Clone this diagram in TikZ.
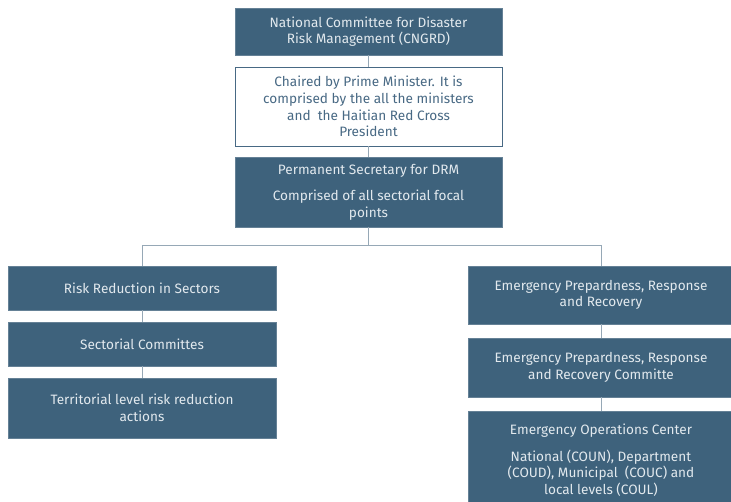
\documentclass[tikz,border=0pt]{standalone}
\usepackage{fontspec}
\setmainfont{Fira Sans}
\usetikzlibrary{positioning}
\definecolor{boxfill}{RGB}{62,98,124}
\definecolor{boxtext}{RGB}{226,233,238}
\definecolor{linkline}{RGB}{150,168,182}
\definecolor{paletext}{RGB}{72,105,132}
\tikzset{
  darkbox/.style={draw=boxfill!80!white, fill=boxfill, text=boxtext, align=center, inner sep=0pt, font=\fontsize{13.6}{16.6}\selectfont},
  palebox/.style={draw=paletext, fill=white, text=paletext, align=center, inner sep=0pt, font=\fontsize{13.6}{16.6}\selectfont},
  link/.style={draw=linkline, line width=0.9pt}
}
\begin{document}
\begin{tikzpicture}[x=1pt, y=-1pt]
  \useasboundingbox (0,0) rectangle (731,501);
  % top column
  \node[darkbox, minimum width=267pt, minimum height=47pt] (cngrd) at (368.5,31.5)
    {National Committee for Disaster\\Risk Management (CNGRD)};
  \node[palebox, minimum width=267pt, minimum height=79pt] (chair) at (368.5,106.5)
    {Chaired by Prime Minister. It is\\comprised by the all the ministers\\and\ \ the Haitian Red Cross\\President};
  \node[darkbox, minimum width=267pt, minimum height=70pt] (secr) at (368.5,192)
    {Permanent Secretary for DRM\\[10pt]Comprised of all sectorial focal\\points};

  % left column
  \node[darkbox, minimum width=268pt, minimum height=44pt] (risk) at (142,288)
    {Risk Reduction in Sectors};
  \node[darkbox, minimum width=268pt, minimum height=44pt] (sect) at (142,344)
    {Sectorial Committes};
  \node[darkbox, minimum width=268pt, minimum height=60pt] (terr) at (142,408)
    {Territorial level risk reduction\\actions};

  % right column
  \node[darkbox, minimum width=266pt, minimum height=58pt] (prep) at (601,295)
    {Emergency Prepardness, Response\\and Recovery};
  \node[darkbox, minimum width=266pt, minimum height=59pt] (prepc) at (601,367.5)
    {Emergency Prepardness, Response\\and Recovery Committe};
  \node[darkbox, minimum width=266pt, minimum height=98pt] (eoc) at (601,460)
    {Emergency Operations Center\\[10pt]National (COUN), Department\\(COUD), Municipal\ \ (COUC) and\\local levels (COUL)};

  % connectors
  \draw[link] (cngrd.south) -- (chair.north);
  \draw[link] (chair.south) -- (secr.north);
  \draw[link] (secr.south) -- ++(0,18) coordinate (split);
  \draw[link] (risk.north) |- (split) -| (prep.north);
  \draw[link] (risk.south) -- (sect.north);
  \draw[link] (sect.south) -- (terr.north);
  \draw[link] (prep.south) -- (prepc.north);
  \draw[link] (prepc.south) -- (eoc.north);
\end{tikzpicture}
\end{document}
